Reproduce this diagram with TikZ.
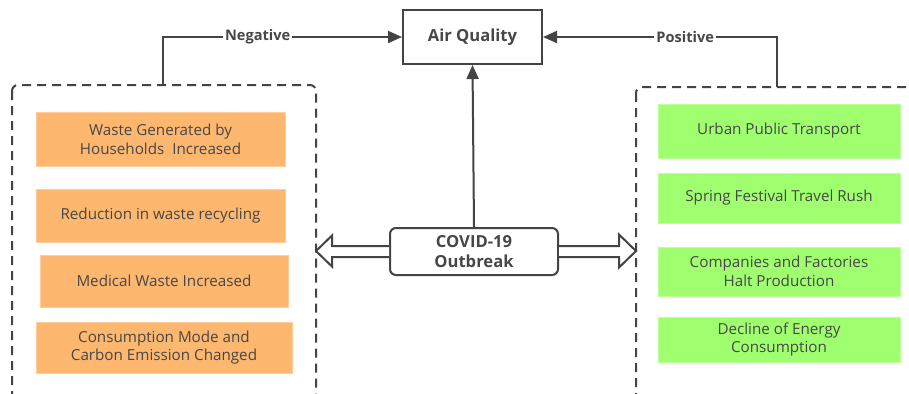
\documentclass[tikz,border=0pt]{standalone}
\usepackage{fontspec}
\setmainfont{Open Sans}
\usetikzlibrary{arrows.meta,calc,positioning}
\definecolor{linegray}{HTML}{444444}
\definecolor{txtgray}{HTML}{474747}
\definecolor{negfill}{HTML}{FDB76F}
\definecolor{posfill}{HTML}{9FFF6F}
\begin{document}
\begin{tikzpicture}[x=0.5pt, y=-0.5pt,
    block/.style={rectangle, draw=linegray, line width=1pt, text=txtgray, font=\bfseries\fontsize{8.3}{10}\selectfont, align=center, inner sep=0pt},
    negbox/.style={rectangle, fill=negfill, draw=negfill!70!white, line width=0.3pt, text=txtgray, font=\fontsize{7.6}{9.4}\selectfont, align=center, inner sep=0pt},
    posbox/.style={rectangle, fill=posfill, draw=posfill!70!white, line width=0.3pt, text=txtgray, font=\fontsize{7.6}{9.4}\selectfont, align=center, inner sep=0pt},
    group/.style={draw=linegray, line width=1pt, dash pattern=on 4.5pt off 3pt, rounded corners=3pt},
    arrow/.style={-{Triangle[length=7pt,width=6pt]}, draw=linegray, line width=1pt},
    hollow/.style={draw=linegray, line width=1pt, fill=white, line join=miter},
    lbl/.style={fill=white, text=txtgray, font=\bfseries\fontsize{7.3}{9}\selectfont, inner sep=1pt}
]
\clip (0,0) rectangle (909,393);
\fill[white] (0,0) rectangle (909,393);

% central nodes
\node[block, minimum width=69.5pt, minimum height=27pt] (air) at (472.5,37) {Air Quality};
\node[block, rounded corners=3pt, minimum width=84pt, minimum height=23.5pt, font=\bfseries\fontsize{8.3}{9.6}\selectfont] (covid) at (474,251.5) {COVID-19\\Outbreak};

% dashed groups
\draw[group] (12,85) rectangle (316,420);
\draw[group] (636,87) rectangle (940,420);
\coordinate (negtop) at (163,85);
\coordinate (postop) at (777,87);
\coordinate (ltip) at (316,251);
\coordinate (rtip) at (636,251);

% negative factors
\node[negbox, minimum width=124.5pt, minimum height=27pt] (neg1) at (160.5,139) {Waste Generated by\\Households\ \ Increased};
\node[negbox, minimum width=124.5pt, minimum height=26.5pt] (neg2) at (160.5,215.5) {Reduction in waste recycling};
\node[negbox, minimum width=124pt, minimum height=26pt] (neg3) at (164,281) {Medical Waste Increased};
\node[negbox, minimum width=128pt, minimum height=25.5pt] (neg4) at (164,347.5) {Consumption Mode and\\Carbon Emission Changed};

% positive factors
\node[posbox, minimum width=121pt, minimum height=27pt] (pos1) at (779,131) {Urban Public Transport};
\node[posbox, minimum width=121pt, minimum height=25pt] (pos2) at (779,198) {Spring Festival Travel Rush};
\node[posbox, minimum width=121pt, minimum height=24.5pt] (pos3) at (779,271.5) {Companies and Factories\\Halt Production};
\node[posbox, minimum width=121pt, minimum height=22.5pt] (pos4) at (779,339.5) {Decline of Energy\\Consumption};

% connectors
\draw[arrow] (negtop) |- (air.west) node[lbl, pos=0.698] {Negative};
\draw[arrow] (postop) |- (air.east) node[lbl, pos=0.696] {Positive};
\draw[arrow] (covid.north) -- (air.south);

% hollow arrows
\draw[hollow] ($(covid.west)+(0,-5.5)$) -| ($(ltip)+(16,-15.5)$) -- (ltip) -- ($(ltip)+(16,15.5)$) |- ($(covid.west)+(0,5.5)$);
\draw[hollow] ($(covid.east)+(0,-5.5)$) -| ($(rtip)+(-17,-16.5)$) -- (rtip) -- ($(rtip)+(-17,16.5)$) |- ($(covid.east)+(0,5.5)$);
\end{tikzpicture}
\end{document}
